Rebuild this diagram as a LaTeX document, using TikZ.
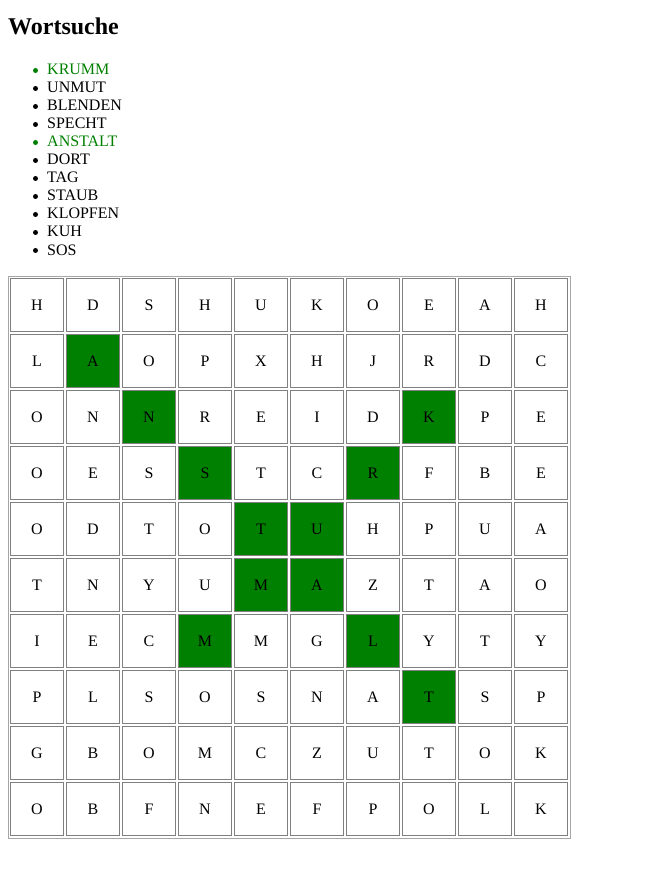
\documentclass[tikz,border=0pt]{standalone}
\usepackage{fontspec}
\setmainfont{Liberation Serif}
\definecolor{hit}{HTML}{008000}
\begin{document}
\begin{tikzpicture}[x=1pt, y=-1pt,
    cell/.style={draw=gray, line width=1pt, minimum size=53pt, inner sep=0pt, font=\fontsize{16}{18}\selectfont},
    item/.style={anchor=base west, inner sep=0pt, font=\fontsize{16}{18}\selectfont},
    bullet/.style={circle, inner sep=0pt, minimum size=5pt}]
  \useasboundingbox (0,0) rectangle (651,874);
  \node[anchor=base west, inner sep=0pt, font=\bfseries\fontsize{24}{28}\selectfont] (title) at (8,35) {Wortsuche};
  % word list
  \foreach \w/\c [count=\i] in {KRUMM/hit, UNMUT/black, BLENDEN/black, SPECHT/black, ANSTALT/hit,
      DORT/black, TAG/black, STAUB/black, KLOPFEN/black, KUH/black, SOS/black}{
    \node[bullet, fill=\c] (b\i) at (35.5,52.5+18*\i) {};
    \node[item, text=\c] (w\i) at (47,57+18*\i) {\w};
  }
  % grid
  \draw[gray!70, line width=1pt] (8.5,276.5) rectangle (570.5,838.5);
  \foreach \r/\c in {1/1, 2/2, 3/3, 4/4, 5/5, 6/6, 7/7, 2/7, 3/6, 4/5, 5/4, 6/3}
    \fill[hit] (10+56*\c,278+56*\r) rectangle +(54,54);
  \foreach \row [count=\r from 0] in {{H,D,S,H,U,K,O,E,A,H}, {L,A,O,P,X,H,J,R,D,C},
      {O,N,N,R,E,I,D,K,P,E}, {O,E,S,S,T,C,R,F,B,E}, {O,D,T,O,T,U,H,P,U,A},
      {T,N,Y,U,M,A,Z,T,A,O}, {I,E,C,M,M,G,L,Y,T,Y}, {P,L,S,O,S,N,A,T,S,P},
      {G,B,O,M,C,Z,U,T,O,K}, {O,B,F,N,E,F,P,O,L,K}}
    \foreach \l [count=\c from 0] in \row
      \node[cell] (\r-\c) at (37+56*\c,305+56*\r) {\l};
\end{tikzpicture}
\end{document}
